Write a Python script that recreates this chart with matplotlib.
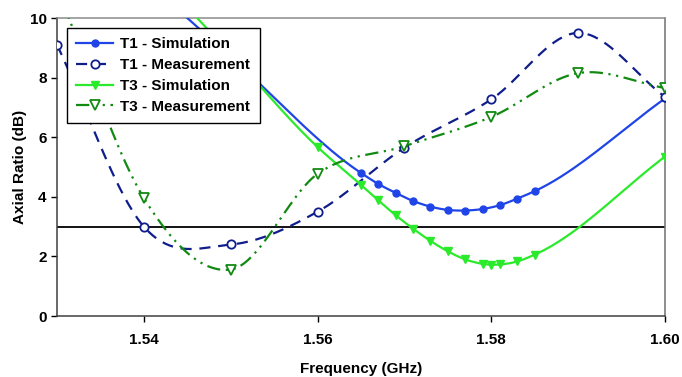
import numpy as np
import matplotlib
matplotlib.use("Agg")
import matplotlib.pyplot as plt
from matplotlib.lines import Line2D

plt.rcParams['font.family'] = ['Liberation Sans', 'DejaVu Sans']
plt.rcParams['font.weight'] = 'bold'

# ---- data ----
t1_sim_f = [1.540, 1.550, 1.565, 1.567, 1.569, 1.571, 1.573, 1.575, 1.577, 1.579, 1.581, 1.583, 1.585, 1.600]
t1_sim_ar = [11.3, 8.7, 4.80, 4.43, 4.13, 3.86, 3.67, 3.56, 3.54, 3.59, 3.72, 3.94, 4.19, 7.30]

t1_meas_f = [1.53, 1.54, 1.55, 1.56, 1.57, 1.58, 1.59, 1.60]
t1_meas_ar = [9.1, 3.0, 2.4, 3.5, 5.65, 7.27, 9.5, 7.35]

t3_sim_f = [1.540, 1.550, 1.560, 1.565, 1.567, 1.569, 1.571, 1.573, 1.575, 1.577, 1.579, 1.580, 1.581, 1.583, 1.585, 1.600]
t3_sim_ar = [11.9, 8.8, 5.67, 4.40, 3.88, 3.38, 2.93, 2.52, 2.17, 1.90, 1.75, 1.72, 1.73, 1.83, 2.06, 5.35]

t3_meas_f = [1.53, 1.54, 1.55, 1.56, 1.57, 1.58, 1.59, 1.60]
t3_meas_ar = [11.0, 3.96, 1.56, 4.77, 5.70, 6.68, 8.15, 7.65]

threshold = 3.0
x_ticks = [1.54, 1.56, 1.58, 1.60]
y_ticks = [0, 2, 4, 6, 8, 10]


def smooth(x, y, n=40):
    """Hermite spline through the points (Excel-like smoothed line)."""
    x = np.asarray(x, float)
    y = np.asarray(y, float)
    h = np.diff(x)
    d = np.diff(y) / h
    m = np.empty_like(y)
    m[0] = d[0]
    m[-1] = d[-1]
    for i in range(1, len(x) - 1):
        m[i] = (h[i] * d[i - 1] + h[i - 1] * d[i]) / (h[i - 1] + h[i])
    xs, ys = [], []
    for i in range(len(x) - 1):
        t = np.linspace(0, 1, n, endpoint=(i == len(x) - 2))
        h00 = 2 * t**3 - 3 * t**2 + 1
        h10 = t**3 - 2 * t**2 + t
        h01 = -2 * t**3 + 3 * t**2
        h11 = t**3 - t**2
        xs.append(x[i] + t * h[i])
        ys.append(h00 * y[i] + h10 * h[i] * m[i] + h01 * y[i + 1] + h11 * h[i] * m[i + 1])
    return np.concatenate(xs), np.concatenate(ys)


fig = plt.figure(figsize=(6.82, 3.77), dpi=100)
ax = fig.add_axes([57 / 682, 61 / 377, 608 / 682, 298 / 377])

c_t1s = '#1F45E8'
c_t1m = '#101E8C'
c_t3s = '#2BEA2B'
c_t3m = '#128A12'

ax.axhline(threshold, color='black', lw=1.3, zorder=2)

series = [
    (t1_sim_f, t1_sim_ar, dict(color=c_t1s, lw=1.6, ls='-'),
     dict(marker='o', ms=5, mfc=c_t1s, mec=c_t1s), 'T1 - Simulation'),
    (t1_meas_f, t1_meas_ar, dict(color=c_t1m, lw=1.6, ls=(0, (5, 3.5))),
     dict(marker='o', ms=6, mfc='white', mec=c_t1m, mew=1.3), 'T1 - Measurement'),
    (t3_sim_f, t3_sim_ar, dict(color=c_t3s, lw=1.6, ls='-'),
     dict(marker='v', ms=5.5, mfc=c_t3s, mec=c_t3s), 'T3 - Simulation'),
    (t3_meas_f, t3_meas_ar, dict(color=c_t3m, lw=1.6, ls=(0, (6, 2.5, 1, 2.5, 1, 2.5))),
     dict(marker='v', ms=6.5, mfc='white', mec=c_t3m, mew=1.3), 'T3 - Measurement'),
]

handles = []
for f, ar, lstyle, mstyle, label in series:
    xs, ys = smooth(f, ar)
    ax.plot(xs, ys, zorder=3, **lstyle)
    ax.plot(f, ar, ls='none', zorder=4, **mstyle)
    handles.append(Line2D([], [], label=label, **lstyle, **mstyle))

ax.set_xlim(1.53, 1.60)
ax.set_ylim(0, 10)
ax.set_xticks(x_ticks)
ax.set_xticklabels([f'{v:.2f}' for v in x_ticks])
ax.set_yticks(y_ticks)
ax.tick_params(direction='out', length=4, width=1, labelsize=11, colors='black')
ax.tick_params(axis='x', pad=8)
for lab in ax.get_xticklabels() + ax.get_yticklabels():
    lab.set_fontweight('bold')

ax.spines['left'].set_color('#404040')
ax.spines['bottom'].set_color('#404040')
ax.spines['top'].set_color('#8C8C8C')
ax.spines['right'].set_color('#707070')
for s in ax.spines.values():
    s.set_linewidth(1.1)

ax.set_xlabel('Frequency (GHz)', fontsize=11, fontweight='bold', labelpad=11)
ax.set_ylabel('Axial Ratio (dB)', fontsize=11, fontweight='bold', labelpad=1.5)

leg = ax.legend(handles=handles, loc='upper left', bbox_to_anchor=(10 / 608, 288 / 298),
                borderaxespad=0, fancybox=False, framealpha=1, edgecolor='black',
                prop=dict(size=11, weight='bold'), handlelength=2.4, handletextpad=0.5,
                labelspacing=0.45, borderpad=0.6)
leg.get_frame().set_linewidth(1.0)
leg.set_zorder(10)

fig.savefig('out.png', dpi=100)
